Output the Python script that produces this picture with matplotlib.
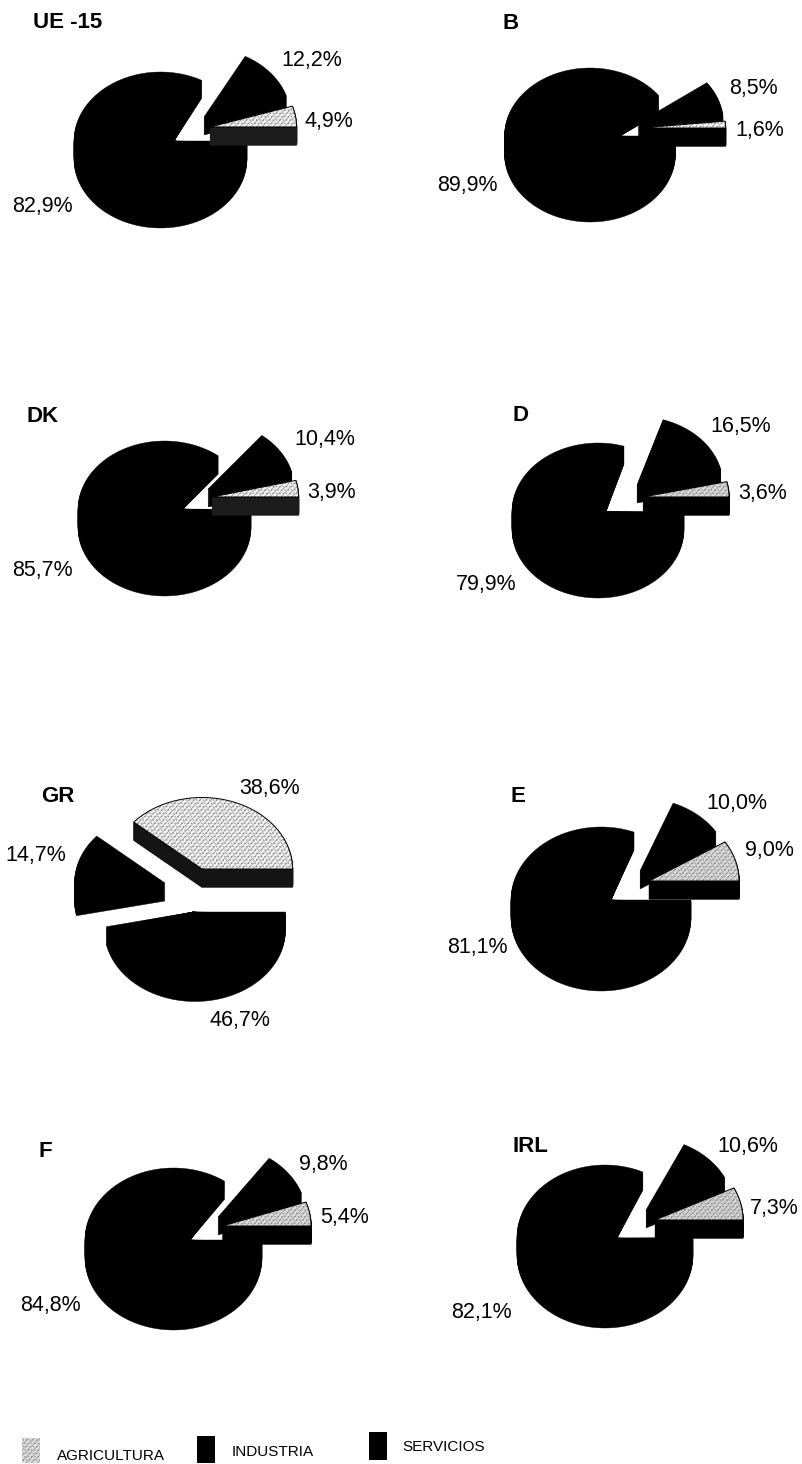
import numpy as np
import matplotlib
matplotlib.use("Agg")
import matplotlib.pyplot as plt

plt.rcParams['font.family'] = ['Liberation Sans', 'DejaVu Sans']
plt.rcParams['hatch.linewidth'] = 0.45

# Employment share by sector, per country
countries = ['UE -15', 'B', 'DK', 'D', 'GR', 'E', 'F', 'IRL']
agricultura = [4.9, 1.6, 3.9, 3.6, 38.6, 9.0, 5.4, 7.3]
industria = [12.2, 8.5, 10.4, 16.5, 14.7, 10.0, 9.8, 10.6]
servicios = [82.9, 89.9, 85.7, 79.9, 46.7, 81.1, 84.8, 82.1]
legend_names = ['AGRICULTURA', 'INDUSTRIA', 'SERVICIOS']

# Page layout in pixels: ellipse radii, services ellipse centre and apex,
# industry and agriculture apexes
LAYOUT = {
    'UE -15': dict(r=(86.5, 69), s=(160.5, 141), st=(174, 141), i=(204, 117), a=(210, 127),
                   title=(33, 21), lab=((329, 120), (312, 59), (42, 205))),
    'B': dict(r=(85.5, 68), s=(590, 136), st=(620, 136), i=(638, 123), a=(640, 128),
              title=(502, 22), lab=((760, 129), (753, 87), (467, 184))),
    'DK': dict(r=(86.5, 68.5), s=(164.5, 509.5), st=(183, 509), i=(208, 489), a=(212, 497),
               title=(27, 415), lab=((332, 491), (325, 438), (42, 569))),
    'D': dict(r=(86, 68.5), s=(598, 511.5), st=(606, 511.5), i=(637, 485), a=(643, 497),
              title=(512, 414), lab=((763, 492), (741, 425), (486, 583))),
    'GR': dict(r=(90.5, 71.5), s=(195, 912), st=(193, 912), i=(165, 883), a=(202, 869),
               title=(41, 795), lab=((270, 787), (36, 854), (240, 1019))),
    'E': dict(r=(90, 73), s=(601, 900), st=(611, 900), i=(640, 871), a=(649, 881),
              title=(511, 795), lab=((769, 849), (737, 802), (477, 946))),
    'F': dict(r=(88.5, 72), s=(173.5, 1240), st=(190, 1240), i=(218, 1217), a=(222.5, 1226),
              title=(39, 1150), lab=((345, 1216), (323, 1163), (50, 1304))),
    'IRL': dict(r=(88, 72.5), s=(605, 1237.5), st=(617, 1238), i=(646, 1210), a=(655, 1220),
                title=(513, 1145), lab=((774, 1207), (748, 1145), (481, 1311))),
}
DEPTH = 18
TEXT_SHIFT = 1.5
TOP_SHADE = {'UE -15': '#efefef', 'B': '#f8f8f8', 'DK': '#efefef', 'D': '#d8d8d8',
             'GR': '#f0f0f0', 'E': '#d8d8d8', 'F': '#dadada', 'IRL': '#d2d2d2'}
SIDE_SHADE = {'UE -15': '#1c1c1c', 'DK': '#1c1c1c', 'GR': '#141414'}
STIPPLE = '//////.....'


def slice_outline(centre, radii, apex, start, stop, drop=0.0, apex_drop=0.0):
    """Polygon of a slice: elliptical arc between two percent marks, closed at the apex."""
    theta = np.radians(np.linspace(start, stop, 120) * 3.6)
    xs = centre[0] + radii[0] * np.cos(theta)
    ys = centre[1] - radii[1] * np.sin(theta) + drop
    return np.r_[apex[0], xs], np.r_[apex[1] + apex_drop, ys]


fig = plt.figure(figsize=(8.02, 14.64), dpi=100, facecolor='white')
ax = fig.add_axes([0, 0, 1, 1])
ax.set_xlim(0, 802)
ax.set_ylim(1464, 0)
ax.axis('off')

for name, agr, ind, ser in zip(countries, agricultura, industria, servicios):
    g = LAYOUT[name]
    ends = np.cumsum([agr, ind, ser])

    # Services: the wall stays behind a fixed apex at the notch
    for d in range(DEPTH + 1):
        x, y = slice_outline(g['s'], g['r'], g['st'], ends[1], 100, drop=d)
        ax.fill(x, y, color='black', lw=0.3)

    # Industry: extruded together with its apex
    for d in range(DEPTH + 1):
        x, y = slice_outline(g['i'], g['r'], g['i'], ends[0], ends[1], drop=d, apex_drop=d)
        ax.fill(x, y, color='black', lw=0.3)

    # Agriculture: dark wall, pale stippled top with a thin outline
    side = SIDE_SHADE.get(name, 'black')
    for d in range(1, DEPTH + 1):
        x, y = slice_outline(g['a'], g['r'], g['a'], 0, ends[0], drop=d, apex_drop=d)
        ax.fill(x, y, color=side, lw=1.0)
    x, y = slice_outline(g['a'], g['r'], g['a'], 0, ends[0])
    ax.fill(x, y, facecolor=TOP_SHADE[name], edgecolor='#8f8f8f', hatch=STIPPLE, lw=0)
    ax.plot(np.r_[x, x[0]], np.r_[y, y[0]], color='black', lw=0.7)

    ax.text(g['title'][0], g['title'][1] + TEXT_SHIFT, name, fontsize=16, fontweight='bold',
            ha='left', va='center')
    for pos, value in zip(g['lab'], (agr, ind, ser)):
        ax.text(pos[0], pos[1] + TEXT_SHIFT, f'{value:.1f}%'.replace('.', ','), fontsize=15.5,
                ha='center', va='center')

# Legend, slightly staggered along the bottom of the page
SWATCHES = [(22, 1438, 18, 25), (197, 1436, 18, 27), (369, 1432, 18, 28)]
SWATCH_TEXT = [(57, 1456), (232, 1452), (402, 1447)]
SWATCH_FILL = [('#dcdcdc', '#8f8f8f', STIPPLE), ('black', 'black', None), ('black', 'black', None)]
for label, (sx, sy, sw, sh), tpos, (fc, ec, hatch) in zip(legend_names, SWATCHES, SWATCH_TEXT, SWATCH_FILL):
    ax.fill([sx, sx + sw, sx + sw, sx], [sy, sy, sy + sh, sy + sh],
            facecolor=fc, edgecolor=ec, hatch=hatch, lw=0)
    ax.text(*tpos, label, fontsize=11, ha='left', va='center')

fig.savefig('out.png', dpi=100)
